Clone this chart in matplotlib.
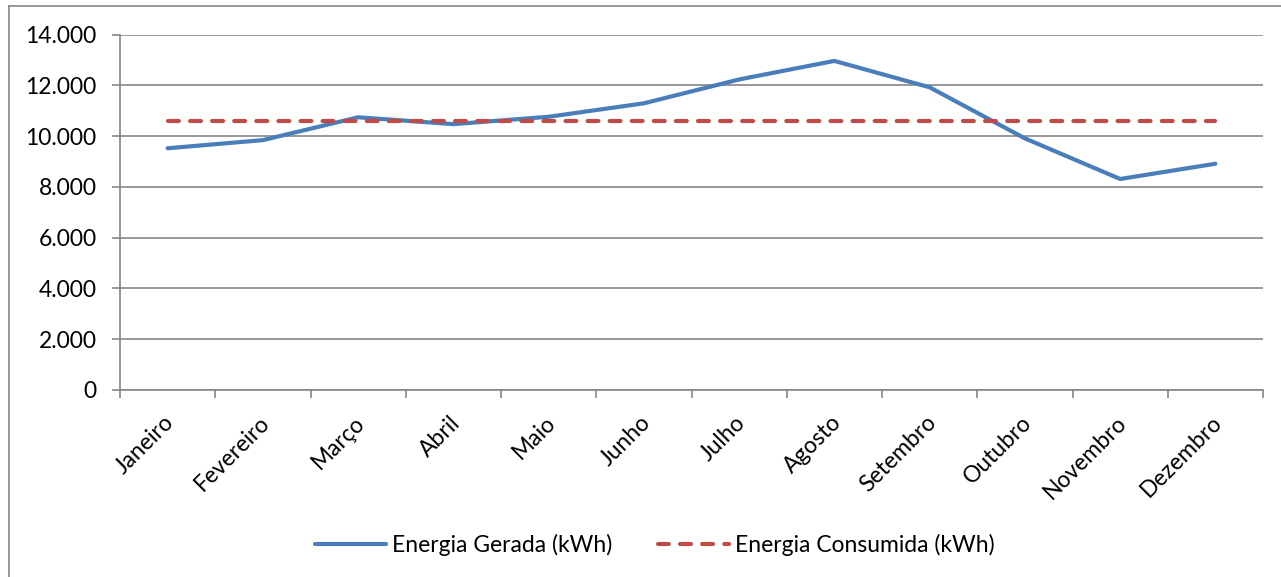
import matplotlib.pyplot as plt
from matplotlib.ticker import FuncFormatter, FixedLocator, NullFormatter
from matplotlib.lines import Line2D
from matplotlib.transforms import ScaledTranslation

plt.rcParams['font.family'] = ['Lato', 'DejaVu Sans']

# --- data ---
meses = ["Janeiro", "Fevereiro", "Março", "Abril", "Maio", "Junho",
         "Julho", "Agosto", "Setembro", "Outubro", "Novembro", "Dezembro"]
gerada = [9520, 9840, 10740, 10470, 10760, 11290,
          12230, 12960, 11920, 9910, 8310, 8910]
consumida = [10590] * 12

blue = "#4A7EBB"
red = "#BE4B48"
grid_c = "#868686"
fs = 16.5

fig = plt.figure(figsize=(12.81, 5.77), dpi=100)
ax = fig.add_axes([120 / 1281, 1 - 390 / 577, (1263 - 120) / 1281, (390 - 34.5) / 577])

x = list(range(len(meses)))
ax.plot(x, gerada, color=blue, lw=3, solid_capstyle='round', label="Energia Gerada (kWh)")
ax.plot(x, consumida, color=red, lw=3, dashes=(2.6, 2.7), dash_capstyle='round',
        label="Energia Consumida (kWh)")

ax.set_xlim(-0.5, len(meses) - 0.5)
ax.set_ylim(0, 14000)
ax.set_yticks(range(0, 14001, 2000))
ax.yaxis.set_major_formatter(FuncFormatter(lambda v, p: f"{int(v):,}".replace(",", ".")))
ax.grid(axis='y', color=grid_c, lw=1.2)
ax.set_axisbelow(True)

# category boundaries as tick marks
ax.xaxis.set_major_locator(FixedLocator([i - 0.5 for i in range(len(meses) + 1)]))
ax.xaxis.set_major_formatter(NullFormatter())
ax.tick_params(axis='x', which='major', length=6, width=1.2, color=grid_c, direction='out')
ax.tick_params(axis='y', length=6, width=1.2, color=grid_c, labelsize=fs, pad=11)

# rotated month names below the axis
lab_tr = ax.get_xaxis_transform() + ScaledTranslation(-4 / 100, -22 / 100, fig.dpi_scale_trans)
for i, m in enumerate(meses):
    ax.text(i, 0, m, transform=lab_tr, rotation=45, ha='right', va='top',
            rotation_mode='anchor', fontsize=fs)

for s in ['top', 'right']:
    ax.spines[s].set_visible(False)
for s in ['left', 'bottom']:
    ax.spines[s].set_color(grid_c)
    ax.spines[s].set_linewidth(1.2)

leg = fig.legend(loc='center', bbox_to_anchor=(0.511, 1 - 545 / 577), ncol=2, frameon=False,
                 fontsize=fs, handlelength=3.1, handletextpad=0.25, columnspacing=2.0)

# outer chart frame
fig.add_artist(Line2D([9 / 1281, 9 / 1281], [0, 1 - 6 / 577], transform=fig.transFigure,
                      color=grid_c, lw=1.2))
fig.add_artist(Line2D([9 / 1281, 1], [1 - 6 / 577, 1 - 6 / 577], transform=fig.transFigure,
                      color=grid_c, lw=1.2))

fig.savefig("out.png", dpi=100)
